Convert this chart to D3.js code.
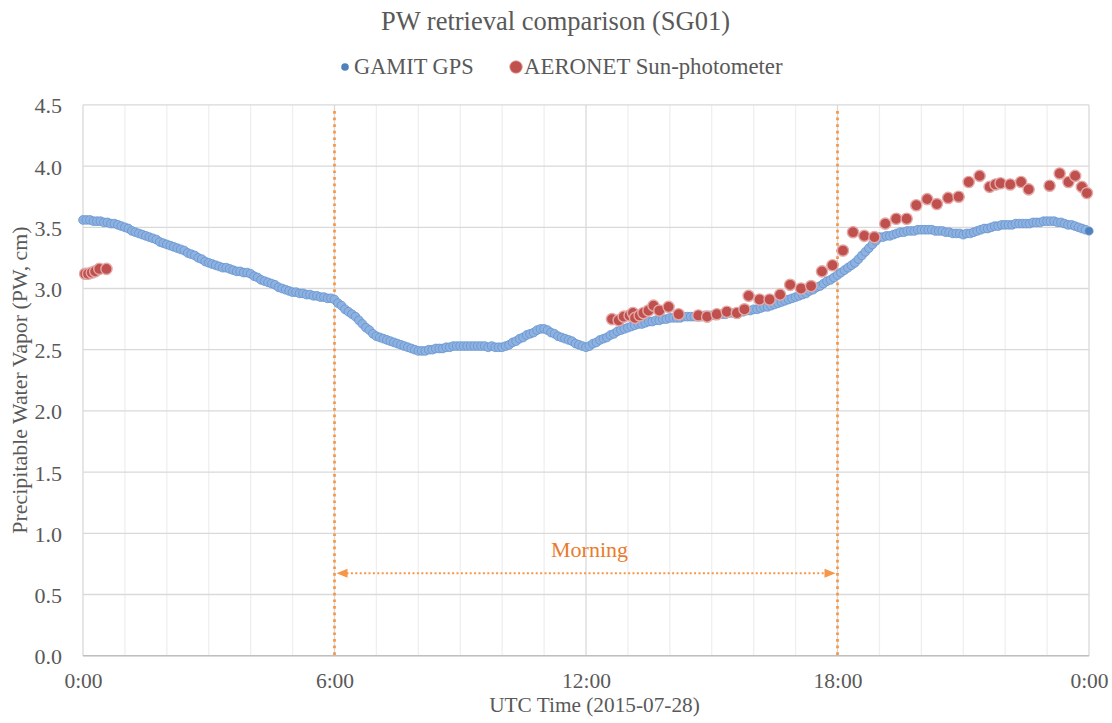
<!DOCTYPE html>
<html><head><meta charset="utf-8">
<script src="https://cdn.jsdelivr.net/npm/d3@7"></script>
<style>body{margin:0;background:#fff}svg{display:block}text{font-family:"Liberation Serif","Times New Roman",serif}</style>
</head><body>
<svg id="c" width="1112" height="723"></svg>
<script>
// GAMIT GPS, 5-minute samples from 0:00 to 24:00 (hours 0..23, 12 per hour, plus final point)
const gpsValues = [
3.56,3.56,3.56,3.55,3.55,3.55,3.54,3.54,3.53,3.53,3.52,3.51,
3.50,3.49,3.47,3.46,3.45,3.44,3.43,3.42,3.41,3.40,3.38,3.37,
3.36,3.35,3.34,3.33,3.32,3.31,3.29,3.28,3.27,3.25,3.24,3.22,
3.21,3.20,3.19,3.18,3.17,3.17,3.16,3.15,3.14,3.14,3.13,3.13,
3.12,3.10,3.09,3.07,3.06,3.05,3.04,3.03,3.01,3.00,2.99,2.98,
2.97,2.97,2.96,2.96,2.95,2.95,2.94,2.94,2.93,2.93,2.92,2.92,
2.91,2.88,2.86,2.83,2.81,2.79,2.77,2.74,2.71,2.68,2.66,2.63,
2.61,2.60,2.59,2.58,2.57,2.56,2.55,2.54,2.53,2.52,2.51,2.50,
2.49,2.49,2.49,2.50,2.50,2.51,2.51,2.51,2.52,2.52,2.53,2.53,
2.53,2.53,2.53,2.53,2.53,2.53,2.53,2.53,2.52,2.53,2.52,2.52,
2.52,2.53,2.54,2.56,2.57,2.59,2.60,2.62,2.63,2.64,2.66,2.67,
2.67,2.66,2.64,2.63,2.61,2.60,2.59,2.58,2.57,2.55,2.54,2.53,
2.52,2.53,2.55,2.56,2.58,2.59,2.60,2.62,2.63,2.65,2.66,2.67,
2.68,2.69,2.70,2.71,2.71,2.72,2.73,2.73,2.74,2.74,2.75,2.75,
2.76,2.76,2.76,2.76,2.77,2.77,2.77,2.77,2.77,2.77,2.78,2.78,
2.78,2.78,2.79,2.79,2.79,2.80,2.80,2.80,2.81,2.81,2.82,2.82,
2.83,2.83,2.84,2.85,2.85,2.86,2.87,2.88,2.89,2.90,2.91,2.92,
2.93,2.94,2.95,2.96,2.98,2.99,3.01,3.02,3.04,3.06,3.07,3.09,
3.11,3.13,3.15,3.17,3.19,3.21,3.24,3.27,3.30,3.33,3.36,3.39,
3.42,3.42,3.43,3.43,3.44,3.45,3.46,3.46,3.47,3.47,3.47,3.48,
3.48,3.48,3.48,3.48,3.47,3.47,3.47,3.46,3.46,3.45,3.45,3.45,
3.44,3.45,3.45,3.46,3.47,3.48,3.49,3.49,3.50,3.51,3.51,3.52,
3.52,3.52,3.52,3.53,3.53,3.53,3.53,3.53,3.54,3.54,3.54,3.55,
3.55,3.55,3.55,3.54,3.54,3.53,3.52,3.52,3.51,3.50,3.49,3.48,
3.47];
const gpsStepMinutes = 5;

// AERONET Sun-photometer observations (hour of day, PW cm)
const aeroHours = [0.05,0.12,0.21,0.29,0.39,0.56,
12.62,12.78,12.90,13.04,13.12,13.17,13.28,13.37,13.49,13.61,13.75,13.97,14.21,14.68,14.89,15.12,15.36,15.60,15.78,15.88,16.14,16.38,16.63,16.87,17.13,17.37,17.63,17.88,18.13,
18.37,18.64,18.88,19.14,19.40,19.65,19.88,20.14,20.37,20.64,20.89,21.13,21.39,21.63,21.77,21.89,22.12,22.38,22.56,23.06,23.30,23.51,23.67,23.83,23.95];
const aeroValues = [3.12,3.12,3.13,3.14,3.16,3.16,
2.75,2.74,2.77,2.78,2.80,2.76,2.78,2.80,2.82,2.86,2.82,2.85,2.79,2.78,2.77,2.79,2.81,2.80,2.83,2.94,2.91,2.91,2.95,3.03,3.00,3.02,3.14,3.19,3.31,
3.46,3.43,3.42,3.53,3.57,3.57,3.68,3.73,3.69,3.74,3.75,3.87,3.92,3.83,3.85,3.86,3.85,3.87,3.81,3.84,3.94,3.87,3.92,3.83,3.78];

const xTickHours = [0,6,12,18,24];
const xTickLabels = ["0:00","6:00","12:00","18:00","0:00"];
const yTicks = [0,0.5,1.0,1.5,2.0,2.5,3.0,3.5,4.0,4.5];
const morningRange = [6,18];
const titleText = "PW retrieval comparison (SG01)";
const seriesNames = ["GAMIT GPS","AERONET Sun-photometer"];
const xTitle = "UTC Time (2015-07-28)";
const yTitle = "Precipitable Water Vapor (PW, cm)";

const svg = d3.select("#c");
const L = 83, R = 1089, T = 104.9, B = 655.7;
const x = d3.scaleLinear().domain([0,24]).range([L,R]);
const y = d3.scaleLinear().domain([0,4.5]).range([B,T]);
const orange = "#f79646";
const grey = "#595959";
const FF = "Liberation Serif";

// gridlines
const g = svg.append("g");
g.selectAll(".v").data(d3.range(0,25)).join("line")
  .attr("x1",d=>x(d)).attr("x2",d=>x(d)).attr("y1",T).attr("y2",B)
  .attr("stroke",d=>d%6===0?"#d9d9d9":"#efefef").attr("stroke-width",1.3);
g.selectAll(".h").data(yTicks).join("line")
  .attr("x1",L).attr("x2",R).attr("y1",d=>y(d)).attr("y2",d=>y(d))
  .attr("stroke","#d9d9d9").attr("stroke-width",1.3);
g.append("line").attr("x1",L).attr("x2",R).attr("y1",B).attr("y2",B).attr("stroke","#bfbfbf").attr("stroke-width",1.5);

// axes via d3
const xAxis = svg.append("g").attr("transform",`translate(0,${B})`)
  .call(d3.axisBottom(x).tickValues(xTickHours).tickFormat((d,i)=>xTickLabels[i]).tickSize(0).tickPadding(17));
xAxis.select(".domain").remove();
xAxis.attr("font-family",FF).attr("font-size",21.5);
xAxis.selectAll("text").attr("fill",grey);
const yAxis = svg.append("g").attr("transform",`translate(${L},0)`)
  .call(d3.axisLeft(y).tickValues(yTicks).tickFormat(d3.format(".1f")).tickSize(0).tickPadding(21));
yAxis.select(".domain").remove();
yAxis.attr("font-family",FF).attr("font-size",22);
yAxis.selectAll("text").attr("fill",grey).attr("dy","0.36em");

// morning annotation
morningRange.forEach(h=>{
  svg.append("line").attr("x1",x(h)).attr("x2",x(h)).attr("y1",111).attr("y2",B)
    .attr("stroke",orange).attr("stroke-width",2.7).attr("stroke-dasharray","2.7 3.9");
});
const ay = 573.3;
svg.append("line").attr("x1",x(morningRange[0])+12).attr("x2",x(morningRange[1])-12).attr("y1",ay).attr("y2",ay)
  .attr("stroke",orange).attr("stroke-width",2).attr("stroke-dasharray","2 2.4");
const ax0 = x(morningRange[0])+2, ax1 = x(morningRange[1])-2;
svg.append("path").attr("d",`M${ax0},${ay}L${ax0+11},${ay-4.5}L${ax0+11},${ay+4.5}Z`).attr("fill",orange);
svg.append("path").attr("d",`M${ax1},${ay}L${ax1-11},${ay-4.5}L${ax1-11},${ay+4.5}Z`).attr("fill",orange);
svg.append("text").attr("x",589.5).attr("y",556.5).attr("text-anchor","middle").attr("font-size",22)
  .attr("fill","#ea7b2c").text("Morning");

// GPS series
const gps = gpsValues.map((v,i)=>({h:i*gpsStepMinutes/60,v}));
svg.append("g").selectAll("circle").data(gps).join("circle")
  .attr("cx",d=>x(d.h)).attr("cy",d=>y(d.v)).attr("r",(d,i)=>i===gps.length-1?4.3:4.4)
  .attr("fill",(d,i)=>i===gps.length-1?"#4f81bd":"#8db1e0")
  .attr("stroke",(d,i)=>i===gps.length-1?"#8db1e0":"#5f8fcd").attr("stroke-width",0.7);

// AERONET series
const aero = aeroHours.map((h,i)=>({h,v:aeroValues[i]}));
svg.append("g").selectAll("circle").data(aero).join("circle")
  .attr("cx",d=>x(d.h)).attr("cy",d=>y(d.v)).attr("r",5.6)
  .attr("fill","#c0504d").attr("stroke","#e3a9a7").attr("stroke-width",1.4);

// title
svg.append("text").attr("x",555.5).attr("y",29.5).attr("text-anchor","middle").attr("font-size",26.5)
  .attr("fill",grey).text(titleText);

// legend
svg.append("circle").attr("cx",345).attr("cy",67).attr("r",3.8).attr("fill","#4f81bd");
svg.append("text").attr("x",354).attr("y",73.5).attr("font-size",22.4).attr("fill",grey).text(seriesNames[0]);
svg.append("circle").attr("cx",516).attr("cy",67).attr("r",6.3).attr("fill","#c0504d").attr("stroke","#e3a9a7").attr("stroke-width",0.8);
svg.append("text").attr("x",524).attr("y",73.5).attr("font-size",22.8).attr("fill",grey).text(seriesNames[1]);

// axis titles
svg.append("text").attr("x",594.5).attr("y",712).attr("text-anchor","middle").attr("font-size",21.3)
  .attr("fill",grey).text(xTitle);
svg.append("text").attr("transform","translate(27,380) rotate(-90)").attr("text-anchor","middle").attr("font-size",21.9)
  .attr("fill",grey).text(yTitle);
</script>
</body></html>
